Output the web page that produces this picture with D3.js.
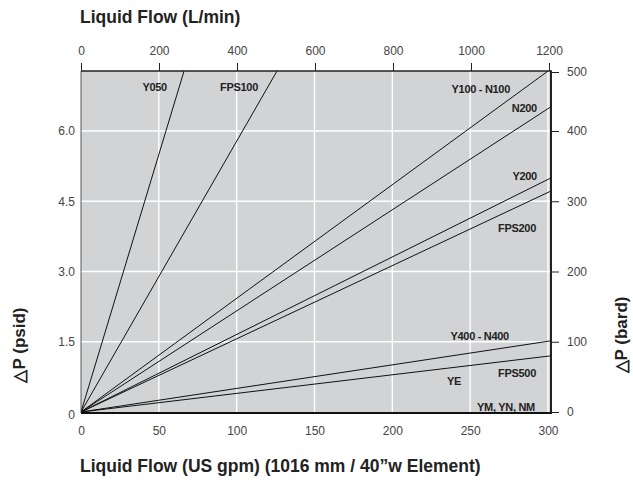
<!DOCTYPE html>
<html><head><meta charset="utf-8">
<script src="https://cdn.jsdelivr.net/npm/d3@7"></script>
<style>
body{margin:0;background:#fff;}
text{font-family:"Liberation Sans",Arial,sans-serif;}
</style></head>
<body><svg id="c" width="633" height="482"></svg>
<script>
// ---- data ----
const series = ["Y050","FPS100","Y100 - N100","N200","Y200","FPS200","Y400 - N400","YE"];
const endGpm  = [66.2, 125.9, 300, 302, 302, 302, 302, 302];
const endPsid = [7.28, 7.28, 7.28, 6.52, 5.00, 4.72, 1.52, 1.20];
const curveLabels = ["Y050","FPS100","Y100 - N100","N200","Y200","FPS200","Y400 - N400","YE","FPS500","YM, YN, NM"];
const gpmTicks = [0,50,100,150,200,250,300];
const lminTicks = [0,200,400,600,800,1000,1200];
const psidTicks = [0,1.5,3.0,4.5,6.0];
const psidTickLabels = ["0","1.5","3.0","4.5","6.0"];
const barTicks = [0,100,200,300,400,500];

// ---- layout ----
const L=81, R=551, T=71, B=413;
const svg=d3.select("#c");
const x=d3.scaleLinear().domain([0,300]).range([81,548]);
const xTop=d3.scaleLinear().domain([0,1200]).range([81,549]);
const y=d3.scaleLinear().domain([0,6]).range([412,131]);
const yBar=d3.scaleLinear().domain([0,400,500]).range([412,131,72]);

// label anchor positions (data coords) – layout only
const labelAt = {
 "Y050":[55.2,6.94],"FPS100":[113.7,6.94],"Y100 - N100":[275.6,6.90],"N200":[292.9,6.49],
 "Y200":[292.9,5.04],"FPS200":[292.3,3.93],"Y400 - N400":[274.9,1.62],"YE":[244.1,0.66],
 "FPS500":[292.3,0.83],"YM, YN, NM":[291.6,0.11]
};

svg.append("rect").attr("x",L).attr("y",T).attr("width",R-L).attr("height",B-T).attr("fill","#d2d3d5");

svg.append("clipPath").attr("id","pc").append("rect").attr("x",L).attr("y",T).attr("width",R-L).attr("height",B-T);

// gridlines
const g=svg.append("g");
g.selectAll("line.v").data(gpmTicks.slice(1)).join("line")
 .attr("x1",d=>x(d)).attr("x2",d=>x(d)).attr("y1",T).attr("y2",B)
 .attr("stroke","#fff").attr("stroke-width",1.4);
g.selectAll("line.h").data(psidTicks.slice(1)).join("line")
 .attr("x1",L).attr("x2",R).attr("y1",d=>y(d)).attr("y2",d=>y(d))
 .attr("stroke","#fff").attr("stroke-width",1.4);

// curves
const lg=svg.append("g").attr("clip-path","url(#pc)");
lg.selectAll("line.s").data(series).join("line")
 .attr("x1",x(0)).attr("y1",y(0))
 .attr("x2",(d,i)=>x(endGpm[i])).attr("y2",(d,i)=>y(endPsid[i]))
 .attr("stroke","#111").attr("stroke-width",1);

// curve labels
svg.append("g").selectAll("text").data(curveLabels).join("text")
 .attr("x",d=>x(labelAt[d][0])).attr("y",d=>y(labelAt[d][1]))
 .attr("dy","0.35em").attr("text-anchor","end")
 .attr("font-size",11).attr("font-weight","bold").attr("fill","#222")
 .attr("letter-spacing",-0.3)
 .text(d=>d);

// borders
svg.append("line").attr("x1",L).attr("x2",L).attr("y1",T).attr("y2",B).attr("stroke","#333").attr("stroke-width",0.8);
svg.append("line").attr("x1",L).attr("x2",R+1).attr("y1",T).attr("y2",T).attr("stroke","#222").attr("stroke-width",1.5);
svg.append("line").attr("x1",L).attr("x2",R+1).attr("y1",B).attr("y2",B).attr("stroke","#111").attr("stroke-width",1.8);
svg.append("line").attr("x1",R).attr("x2",R).attr("y1",T).attr("y2",B).attr("stroke","#222").attr("stroke-width",2);

// top axis
const topAx=d3.axisTop(xTop).tickValues(lminTicks).tickSize(8).tickPadding(8).tickFormat(d3.format("d"));
const ta=svg.append("g").attr("transform",`translate(0,${T})`).call(topAx);
ta.select(".domain").remove();
ta.selectAll("line").attr("stroke","#222");
ta.selectAll("text").attr("font-size",12).attr("fill","#444").attr("font-family","Liberation Sans, Arial");

// bottom axis
const botAx=d3.axisBottom(x).tickValues(gpmTicks).tickSize(0).tickPadding(13).tickFormat(d3.format("d"));
const ba=svg.append("g").attr("transform",`translate(0,${B})`).call(botAx);
ba.select(".domain").remove();
ba.selectAll("text").attr("font-size",12).attr("fill","#444").attr("font-family","Liberation Sans, Arial");

// left axis
const leftAx=d3.axisLeft(y).tickValues(psidTicks).tickSize(0).tickPadding(6).tickFormat((d,i)=>psidTickLabels[i]);
const la=svg.append("g").attr("transform",`translate(${L},0)`).call(leftAx);
la.select(".domain").remove();
la.selectAll("text").attr("font-size",12).attr("fill","#444").attr("font-family","Liberation Sans, Arial");
la.selectAll(".tick").filter(d=>d===0).attr("transform",`translate(0,${B+2})`);

// right axis
const rightAx=d3.axisRight(yBar).tickValues(barTicks).tickSize(8).tickPadding(8).tickFormat(d3.format("d"));
const ra=svg.append("g").attr("transform",`translate(${R},0)`).call(rightAx);
ra.select(".domain").remove();
ra.selectAll("line").attr("stroke","#222");
ra.selectAll("text").attr("font-size",12).attr("fill","#444").attr("font-family","Liberation Sans, Arial");

// titles
svg.append("text").attr("x",80).attr("y",23).attr("font-size",17.5).attr("font-weight","bold").attr("fill","#222")
 .text("Liquid Flow (L/min)");
svg.append("text").attr("x",80).attr("y",472).attr("font-size",17.5).attr("font-weight","bold").attr("fill","#222")
 .text("Liquid Flow (US gpm) (1016 mm / 40”w Element)");
svg.append("text").attr("transform","translate(25,345) rotate(-90)").attr("text-anchor","middle")
 .attr("font-size",17).attr("font-weight","bold").attr("fill","#222").text("△P (psid)");
svg.append("text").attr("transform","translate(627,335) rotate(-90)").attr("text-anchor","middle")
 .attr("font-size",17).attr("font-weight","bold").attr("fill","#222").text("△P (bard)");
</script></body></html>
